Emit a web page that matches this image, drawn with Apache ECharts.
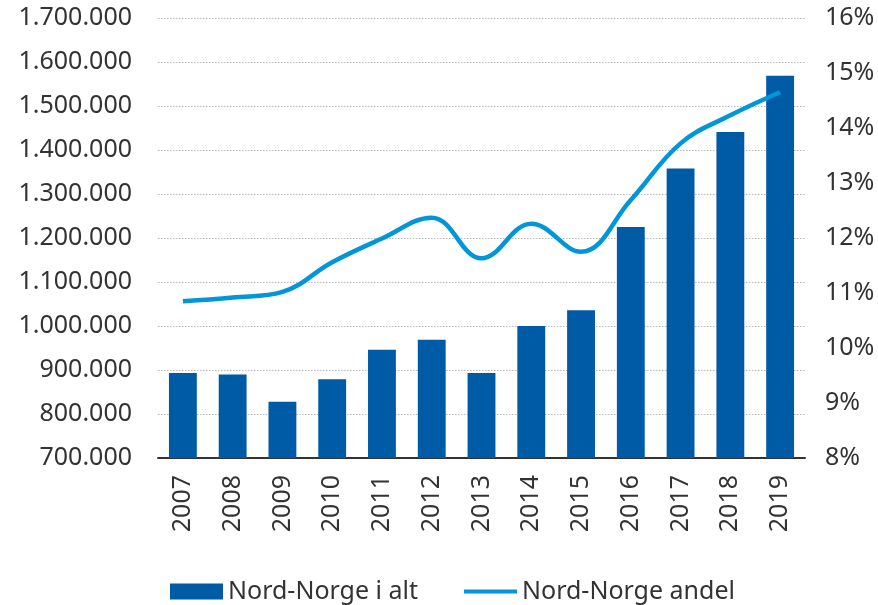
<!DOCTYPE html>
<html>
<head>
<meta charset="utf-8">
<script src="https://cdn.jsdelivr.net/npm/echarts@6/dist/echarts.min.js"></script>
<style>
  html, body { margin: 0; padding: 0; background: #ffffff; }
  #main { width: 878px; height: 605px; }
</style>
</head>
<body>
<div id="main"></div>
<script>
var years = ['2007', '2008', '2009', '2010', '2011', '2012', '2013', '2014', '2015', '2016', '2017', '2018', '2019'];
var totalValues = [893000, 890000, 828000, 879000, 946000, 969000, 893000, 1000000, 1036000, 1225000, 1358000, 1441000, 1569000];
var shareValues = [10.85, 10.92, 11.02, 11.56, 11.99, 12.37, 11.63, 12.26, 11.75, 12.69, 13.72, 14.23, 14.65];

var chartDom = document.getElementById('main');
var myChart = echarts.init(chartDom);

function dots(v) {
  return String(v).replace(/\B(?=(\d{3})+(?!\d))/g, '.');
}

var legendText = { color: '#333333', fontSize: 25, fontFamily: 'Noto Sans' };

var option = {
  backgroundColor: '#ffffff',
  animation: false,
  textStyle: { fontFamily: 'Noto Sans' },
  grid: { left: 158, right: 73, top: 18, bottom: 147 },
  legend: [
    {
      left: 165,
      top: 574,
      itemWidth: 53,
      itemHeight: 16,
      textStyle: legendText,
      data: [{ name: 'Nord-Norge i alt', icon: 'rect' }]
    },
    {
      left: 459,
      top: 574,
      itemWidth: 53,
      itemHeight: 4,
      textStyle: legendText,
      data: [{ name: 'Nord-Norge andel', icon: 'rect' }]
    }
  ],
  xAxis: {
    type: 'category',
    data: years,
    axisTick: { show: false },
    axisLine: { lineStyle: { color: '#333333', width: 2 } },
    axisLabel: { rotate: 90, margin: 17, color: '#333333', fontSize: 25 }
  },
  yAxis: [
    {
      type: 'value',
      min: 700000,
      max: 1700000,
      interval: 100000,
      axisLine: { show: false },
      axisTick: { show: false },
      axisLabel: { margin: 26, color: '#333333', fontSize: 25, formatter: function (v) { return dots(v); } },
      splitLine: { lineStyle: { color: '#b8b8b8', type: [1.5, 1.5], width: 1 } }
    },
    {
      type: 'value',
      min: 8,
      max: 16,
      interval: 1,
      axisLine: { show: false },
      axisTick: { show: false },
      splitLine: { show: false },
      axisLabel: { margin: 20, color: '#333333', fontSize: 25, formatter: '{value}%' }
    }
  ],
  series: [
    {
      name: 'Nord-Norge i alt',
      type: 'bar',
      data: totalValues,
      barWidth: '56%',
      itemStyle: { color: '#005ba6' }
    },
    {
      name: 'Nord-Norge andel',
      type: 'line',
      yAxisIndex: 1,
      data: shareValues,
      smooth: 0.4,
      symbol: 'none',
      lineStyle: { color: '#0096d8', width: 4.5 },
      itemStyle: { color: '#0096d8' }
    }
  ]
};
myChart.setOption(option);
</script>
</body>
</html>
